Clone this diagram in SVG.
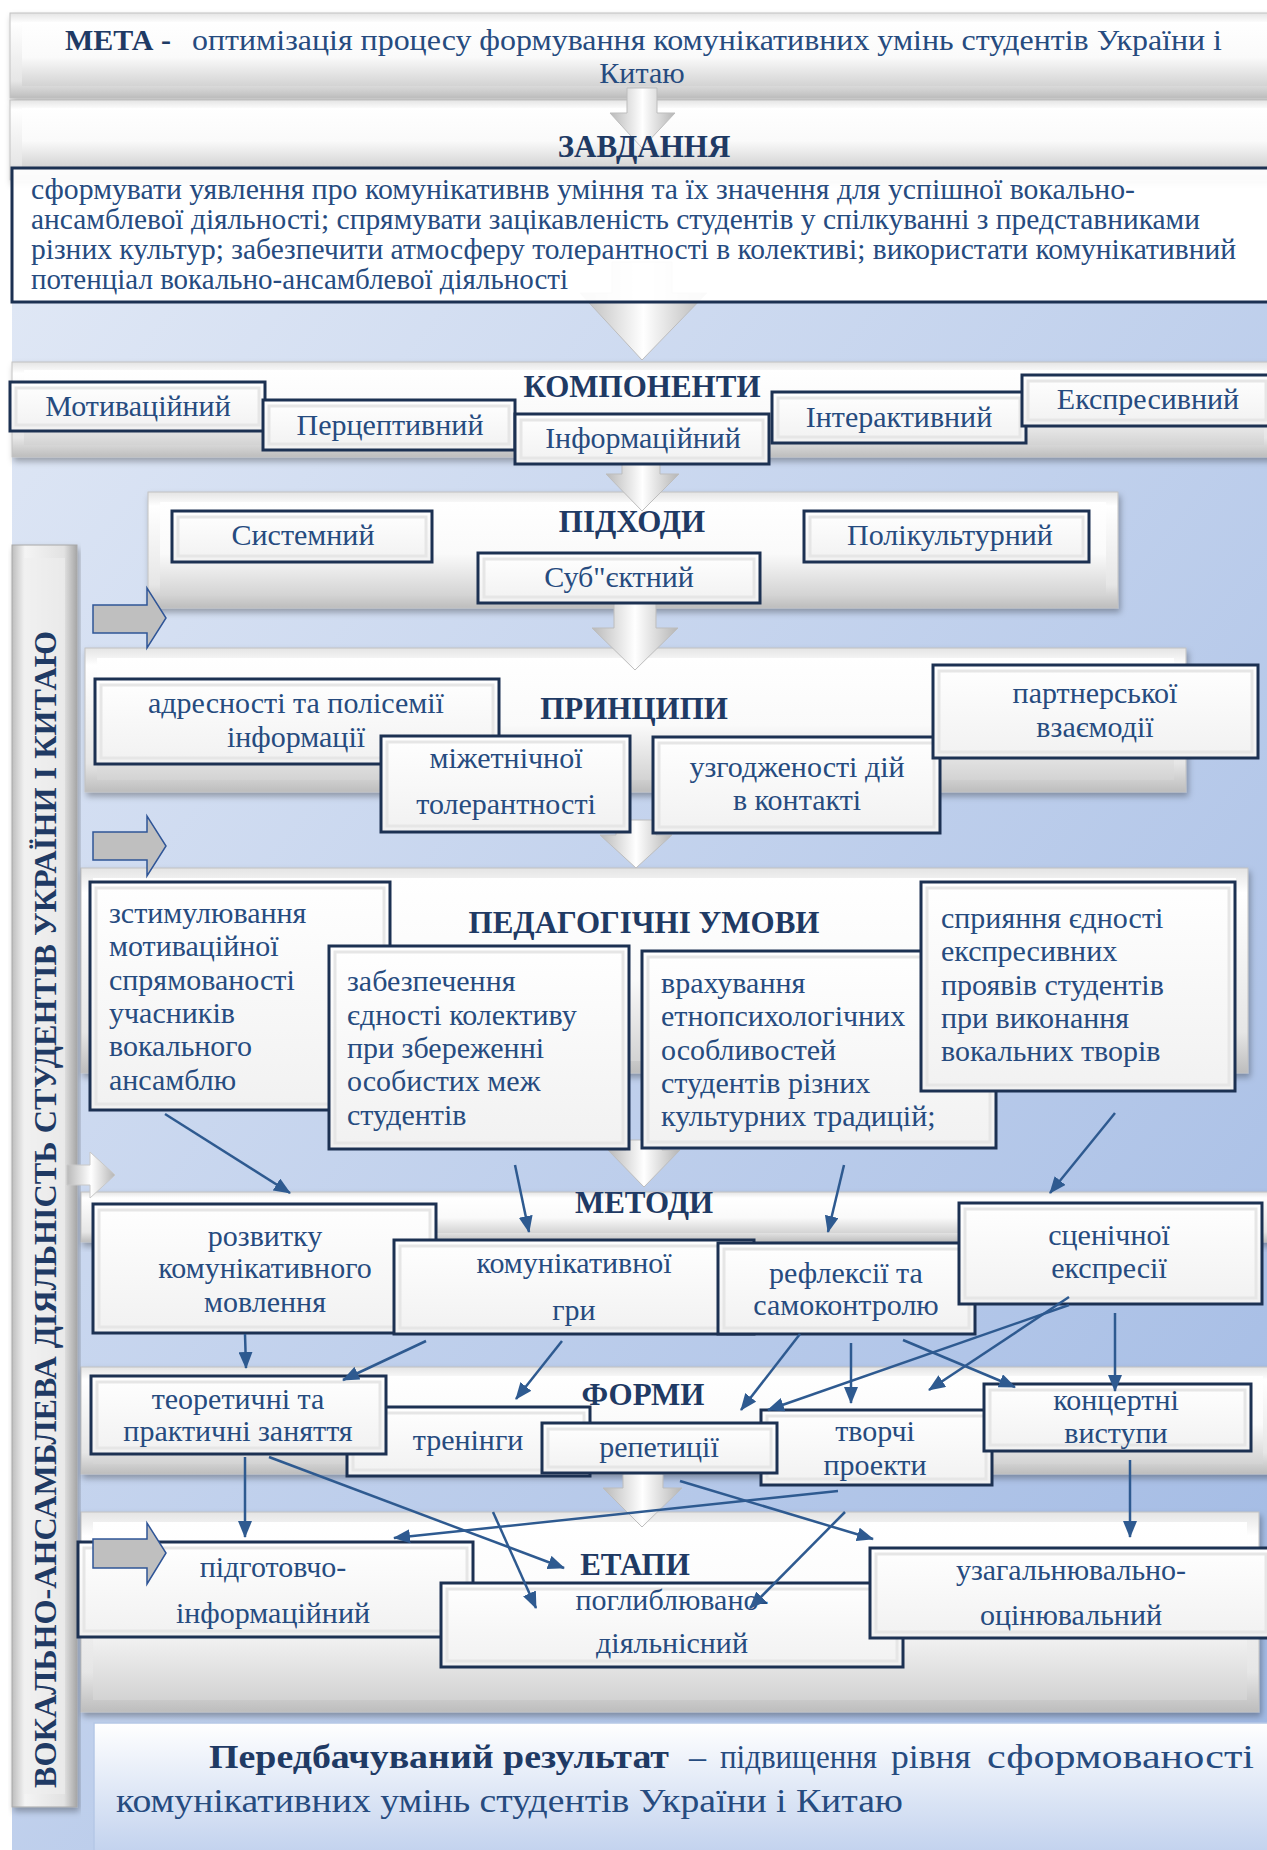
<svg xmlns="http://www.w3.org/2000/svg" width="1267" height="1850" viewBox="0 0 1267 1850">
<style>
.t{font-family:"Liberation Serif","Times New Roman",serif;fill:#264b7f;font-size:30px}
.m{text-anchor:middle}
.h{font-family:"Liberation Serif","Times New Roman",serif;font-weight:bold;fill:#1f3a64;font-size:31px;text-anchor:middle}
.box{fill:url(#boxFill);stroke:#1c3152;stroke-width:3}
.bev{fill:none;stroke:#e6e6e6;stroke-width:3}
.band{fill:url(#bandOuter);stroke:#c2c2c2;stroke-width:1;filter:url(#sh)}
.bin{fill:url(#bandInner)}
.big{fill:url(#arrowGrad);stroke:#bdbdbd;stroke-width:1}
.side{fill:#bfbfbf;stroke:#2f5597;stroke-width:1.5}
.conn{stroke:#2e5a90;stroke-width:2.5;fill:none;marker-end:url(#ah)}
.r{font-size:34px}
</style>
<defs>
<linearGradient id="bg" x1="0" y1="0" x2="1" y2="1">
<stop offset="0" stop-color="#dfe7f5"/><stop offset="1" stop-color="#9fb8e3"/>
</linearGradient>
<linearGradient id="bandOuter" x1="0" y1="0" x2="0" y2="1">
<stop offset="0" stop-color="#e4e4e4"/><stop offset="0.12" stop-color="#ffffff"/><stop offset="0.8" stop-color="#e6e6e6"/><stop offset="1" stop-color="#bdbdbd"/>
</linearGradient>
<linearGradient id="bandInner" x1="0" y1="0" x2="0" y2="1">
<stop offset="0" stop-color="#ffffff"/><stop offset="0.55" stop-color="#fafafa"/><stop offset="1" stop-color="#d3d3d3"/>
</linearGradient>
<linearGradient id="boxFill" x1="0" y1="0" x2="0" y2="1">
<stop offset="0" stop-color="#ffffff"/><stop offset="1" stop-color="#f1f1f1"/>
</linearGradient>
<linearGradient id="arrowGrad" x1="0" y1="0" x2="1" y2="0">
<stop offset="0" stop-color="#b9b9b9"/><stop offset="0.5" stop-color="#ffffff"/><stop offset="1" stop-color="#b5b5b5"/>
</linearGradient>
<linearGradient id="barGrad" x1="0" y1="0" x2="1" y2="0">
<stop offset="0" stop-color="#bdbdbd"/><stop offset="0.2" stop-color="#f4f4f4"/><stop offset="0.8" stop-color="#e2e2e2"/><stop offset="1" stop-color="#a6a6a6"/>
</linearGradient>
<linearGradient id="resGrad" x1="0" y1="0" x2="0" y2="1">
<stop offset="0" stop-color="#ffffff"/><stop offset="1" stop-color="#c2d2ee"/>
</linearGradient>
<filter id="sh" x="-5%" y="-10%" width="110%" height="130%">
<feDropShadow dx="2" dy="4" stdDeviation="3" flood-color="#000" flood-opacity="0.3"/>
</filter>
<marker id="ah" markerUnits="userSpaceOnUse" markerWidth="18" markerHeight="14" refX="16" refY="7" orient="auto">
<path d="M0,0 L17,7 L0,14 Z" fill="#2e5a90"/>
</marker>
</defs>

<rect x="0" y="0" width="1267" height="1850" fill="#ffffff"/>
<rect x="12" y="302" width="1255" height="1548" fill="url(#bg)"/>

<g id="bands">
<g id="band-meta"><rect class="band" x="10" y="13" width="1265" height="85"/><rect class="bin" x="22" y="22" width="1245" height="64"/></g>
<g id="band-zavd"><rect class="band" x="10" y="100" width="1265" height="80"/><rect class="bin" x="22" y="108" width="1245" height="60"/></g>
<g id="band-komp"><rect class="band" x="12" y="362" width="1262" height="95"/><rect class="bin" x="24" y="370" width="1240" height="75"/></g>
<g id="band-pidh"><rect class="band" x="148" y="492" width="970" height="116"/><rect class="bin" x="160" y="502" width="946" height="94"/></g>
<g id="band-prync"><rect class="band" x="85" y="648" width="1101" height="144"/><rect class="bin" x="97" y="658" width="1077" height="122"/></g>
<g id="band-umovy"><rect class="band" x="81" y="868" width="1167" height="205"/><rect class="bin" x="93" y="878" width="1143" height="183"/></g>
<g id="band-metody"><rect class="band" x="81" y="1192" width="1190" height="50"/><rect class="bin" x="93" y="1199" width="1170" height="34"/></g>
<g id="band-formy"><rect class="band" x="81" y="1367" width="1190" height="107"/><rect class="bin" x="93" y="1376" width="1170" height="88"/></g>
<g id="band-etapy"><rect class="band" x="81" y="1512" width="1178" height="200"/><rect class="bin" x="93" y="1522" width="1154" height="178"/></g>
</g>

<g id="side-bar">
<rect x="12" y="545" width="65" height="1262" fill="url(#barGrad)" stroke="#a8a8a8" stroke-width="1" filter="url(#sh)"/>
<rect x="24" y="558" width="41" height="1236" fill="#eeeeee" opacity="0.6"/>
<text class="h" style="text-anchor:start;font-size:31px" transform="translate(56,1788) rotate(-90)" textLength="1157" lengthAdjust="spacingAndGlyphs">ВОКАЛЬНО-АНСАМБЛЕВА ДІЯЛЬНІСТЬ СТУДЕНТІВ УКРАЇНИ І КИТАЮ</text>
</g>

<g id="flow-arrows">
<path class="big" d="M627,88 L657,88 L657,113 L675,113 L642,148 L610,113 L627,113 Z"/>
<path class="big" d="M612,262 L672,262 L672,293 L707,293 L642,360 L580,293 L612,293 Z"/>
<path class="big" d="M622,458 L660,458 L660,474 L679,474 L642,511 L606,474 L622,474 Z"/>
<path class="big" d="M614,603 L656,603 L656,628 L678,628 L635,670 L592,628 L614,628 Z"/>
<path class="big" d="M616,820 L656,820 L656,835 L672,835 L636,868 L600,835 L616,835 Z"/>
<path class="big" d="M626,1140 L662,1140 L662,1150 L680,1150 L644,1187 L608,1150 L626,1150 Z"/>
<path class="big" d="M623,1473 L663,1473 L663,1488 L682,1488 L642,1527 L603,1488 L623,1488 Z"/>
</g>

<g id="meta">
<text class="t" x="65" y="50" style="font-weight:bold;fill:#1f3a64">МЕТА -</text>
<text class="t" x="192" y="50" textLength="1030" lengthAdjust="spacingAndGlyphs">оптимізація процесу формування комунікативних умінь студентів України і</text>
<text class="t m" x="642" y="83">Китаю</text>
</g>

<g id="tasks">
<rect x="12" y="168" width="1262" height="134" fill="#ffffff" fill-opacity="0.93" stroke="#1c3152" stroke-width="3"/>
<text class="t" x="31" y="199" style="font-size:29px" textLength="1104" lengthAdjust="spacingAndGlyphs">сформувати уявлення про комунікативнв уміння  та їх значення для успішної вокально-</text>
<text class="t" x="31" y="229" style="font-size:29px" textLength="1169" lengthAdjust="spacingAndGlyphs">ансамблевої діяльності; спрямувати зацікавленість  студентів у спілкуванні з представниками</text>
<text class="t" x="31" y="259" style="font-size:29px" textLength="1205" lengthAdjust="spacingAndGlyphs">різних культур; забезпечити атмосферу толерантності в колективі; використати комунікативний</text>
<text class="t" x="31" y="289" style="font-size:29px">потенціал вокально-ансамблевої діяльності</text>
</g>

<g id="components">
<g id="c-motyv"><rect class="box" x="10" y="382" width="255" height="49"/><rect class="bev" x="16" y="388" width="243" height="37"/><text class="t m" x="138" y="416">Мотиваційний</text></g>
<g id="c-percept"><rect class="box" x="263" y="400" width="252" height="50"/><rect class="bev" x="269" y="406" width="240" height="38"/><text class="t m" x="390" y="435">Перцептивний</text></g>
<g id="c-inform"><rect class="box" x="515" y="414" width="254" height="50"/><rect class="bev" x="521" y="420" width="242" height="38"/><text class="t m" x="643" y="448">Інформаційний</text></g>
<g id="c-interakt"><rect class="box" x="772" y="392" width="254" height="51"/><rect class="bev" x="778" y="398" width="242" height="39"/><text class="t m" x="899" y="427">Інтерактивний</text></g>
<g id="c-ekspres"><rect class="box" x="1022" y="375" width="250" height="51"/><rect class="bev" x="1028" y="381" width="238" height="39"/><text class="t m" x="1148" y="409">Експресивний</text></g>
</g>

<g id="approaches">
<g id="a-system"><rect class="box" x="172" y="511" width="260" height="51"/><rect class="bev" x="178" y="517" width="248" height="39"/><text class="t m" x="303" y="545">Системний</text></g>
<g id="a-polikult"><rect class="box" x="804" y="511" width="285" height="51"/><rect class="bev" x="810" y="517" width="273" height="39"/><text class="t m" x="950" y="545">Полікультурний</text></g>
<g id="a-subj"><rect class="box" x="478" y="553" width="282" height="50"/><rect class="bev" x="484" y="559" width="270" height="38"/><text class="t m" x="619" y="587">Суб"єктний</text></g>
</g>

<g id="principles">
<g id="p-adres"><rect class="box" x="95" y="679" width="404" height="85"/><rect class="bev" x="101" y="685" width="392" height="73"/><text class="t m" x="296" y="713">адресності та полісемії</text><text class="t m" x="296" y="747">інформації</text></g>
<g id="p-mizhet"><rect class="box" x="381" y="736" width="249" height="96"/><rect class="bev" x="387" y="742" width="237" height="84"/><text class="t m" x="506" y="768">міжетнічної</text><text class="t m" x="506" y="814">толерантності</text></g>
<g id="p-uzgod"><rect class="box" x="653" y="737" width="287" height="96"/><rect class="bev" x="659" y="743" width="275" height="84"/><text class="t m" x="797" y="777">узгодженості дій</text><text class="t m" x="797" y="810">в контакті</text></g>
<g id="p-partn"><rect class="box" x="933" y="665" width="325" height="93"/><rect class="bev" x="939" y="671" width="313" height="81"/><text class="t m" x="1095" y="703">партнерської</text><text class="t m" x="1095" y="737">взаємодії</text></g>
</g>

<g id="conditions">
<g id="u-stym"><rect class="box" x="90" y="882" width="300" height="228"/><rect class="bev" x="96" y="888" width="288" height="216"/>
<text class="t" x="109" y="923">зстимулювання</text><text class="t" x="109" y="956">мотиваційної</text><text class="t" x="109" y="990">спрямованості</text><text class="t" x="109" y="1023">учасників</text><text class="t" x="109" y="1056">вокального</text><text class="t" x="109" y="1090">ансамблю</text></g>
<g id="u-zabezp"><rect class="box" x="329" y="946" width="300" height="203"/><rect class="bev" x="335" y="952" width="288" height="191"/>
<text class="t" x="347" y="991">забезпечення</text><text class="t" x="347" y="1025">єдності колективу</text><text class="t" x="347" y="1058">при збереженні</text><text class="t" x="347" y="1091">особистих меж</text><text class="t" x="347" y="1125">студентів</text></g>
<g id="u-vrakh"><rect class="box" x="642" y="951" width="354" height="197"/><rect class="bev" x="648" y="957" width="342" height="185"/>
<text class="t" x="661" y="993">врахування</text><text class="t" x="661" y="1026">етнопсихологічних</text><text class="t" x="661" y="1060">особливостей</text><text class="t" x="661" y="1093">студентів різних</text><text class="t" x="661" y="1126">культурних традицій;</text></g>
<g id="u-spryi"><rect class="box" x="921" y="882" width="314" height="209"/><rect class="bev" x="927" y="888" width="302" height="197"/>
<text class="t" x="941" y="928">сприяння єдності</text><text class="t" x="941" y="961">експресивних</text><text class="t" x="941" y="995">проявів студентів</text><text class="t" x="941" y="1028">при виконання</text><text class="t" x="941" y="1061">вокальних творів</text></g>
</g>

<g id="methods">
<g id="m-rozv"><rect class="box" x="93" y="1204" width="343" height="129"/><rect class="bev" x="99" y="1210" width="331" height="117"/><text class="t m" x="265" y="1246">розвитку</text><text class="t m" x="265" y="1278">комунікативного</text><text class="t m" x="265" y="1312">мовлення</text></g>
<g id="m-gry"><rect class="box" x="394" y="1240" width="360" height="94"/><rect class="bev" x="400" y="1246" width="348" height="82"/><text class="t m" x="574" y="1273">комунікативної</text><text class="t m" x="574" y="1320">гри</text></g>
<g id="m-refl"><rect class="box" x="718" y="1243" width="257" height="91"/><rect class="bev" x="724" y="1249" width="245" height="79"/><text class="t m" x="846" y="1283">рефлексії та</text><text class="t m" x="846" y="1315">самоконтролю</text></g>
<g id="m-scen"><rect class="box" x="959" y="1203" width="303" height="101"/><rect class="bev" x="965" y="1209" width="291" height="89"/><text class="t m" x="1109" y="1245">сценічної</text><text class="t m" x="1109" y="1278">експресії</text></g>
</g>

<g id="forms">
<g id="f-trening"><rect class="box" x="347" y="1407" width="243" height="69"/><rect class="bev" x="353" y="1413" width="231" height="57"/><text class="t m" x="468" y="1450">тренінги</text></g>
<g id="f-teor"><rect class="box" x="91" y="1376" width="295" height="78"/><rect class="bev" x="97" y="1382" width="283" height="66"/><text class="t m" x="238" y="1409">теоретичні та</text><text class="t m" x="238" y="1441">практичні заняття</text></g>
<g id="f-tvorchi"><rect class="box" x="761" y="1410" width="231" height="75"/><rect class="bev" x="767" y="1416" width="219" height="63"/><text class="t m" x="875" y="1441">творчі</text><text class="t m" x="875" y="1475">проекти</text></g>
<g id="f-repet"><rect class="box" x="542" y="1423" width="235" height="50"/><rect class="bev" x="548" y="1429" width="223" height="38"/><text class="t m" x="659" y="1457">репетиції</text></g>
<g id="f-koncert"><rect class="box" x="984" y="1384" width="267" height="67"/><rect class="bev" x="990" y="1390" width="255" height="55"/><text class="t m" x="1116" y="1410">концертні</text><text class="t m" x="1116" y="1443">виступи</text></g>
</g>

<g id="stages">
<g id="e-pidg"><rect class="box" x="78" y="1542" width="395" height="95"/><rect class="bev" x="84" y="1548" width="383" height="83"/><text class="t m" x="273" y="1577">підготовчо-</text><text class="t m" x="273" y="1623">інформаційний</text></g>
<g id="e-pogl"><rect class="box" x="441" y="1583" width="462" height="84"/><rect class="bev" x="447" y="1589" width="450" height="72"/><text class="t m" x="672" y="1610">поглиблювано-</text><text class="t m" x="672" y="1653">діяльнісний</text></g>
<g id="e-uzag"><rect class="box" x="870" y="1548" width="402" height="90"/><rect class="bev" x="876" y="1554" width="390" height="78"/><text class="t m" x="1071" y="1580">узагальнювально-</text><text class="t m" x="1071" y="1625">оцінювальний</text></g>
</g>

<g id="side-arrows">
<path class="side" d="M93,605 L147,605 L147,588 L166,618 L147,648 L147,633 L93,633 Z"/>
<path class="side" d="M93,832 L147,832 L147,816 L166,846 L147,876 L147,860 L93,860 Z"/>
<path class="side" d="M93,1539 L147,1539 L147,1523 L166,1553 L147,1584 L147,1568 L93,1568 Z"/>
<path d="M67,1165 L90,1165 L90,1152 L115,1175 L90,1198 L90,1185 L67,1185 Z" fill="url(#arrowGrad)" stroke="#c8c8c8" stroke-width="1"/>
</g>

<g id="headings">
<text class="h" x="644" y="157">ЗАВДАННЯ</text>
<text class="h" x="642" y="397">КОМПОНЕНТИ</text>
<text class="h" x="632" y="532">ПІДХОДИ</text>
<text class="h" x="634" y="719">ПРИНЦИПИ</text>
<text class="h" x="644" y="933">ПЕДАГОГІЧНІ УМОВИ</text>
<text class="h" x="644" y="1213">МЕТОДИ</text>
<text class="h" x="643" y="1405">ФОРМИ</text>
<text class="h" x="635" y="1575">ЕТАПИ</text>
</g>

<g id="connectors">
<line class="conn" x1="165" y1="1114" x2="290" y2="1193"/>
<line class="conn" x1="515" y1="1165" x2="529" y2="1232"/>
<line class="conn" x1="844" y1="1165" x2="828" y2="1232"/>
<line class="conn" x1="1115" y1="1113" x2="1050" y2="1193"/>
<line class="conn" x1="245" y1="1334" x2="246" y2="1368"/>
<line class="conn" x1="426" y1="1341" x2="343" y2="1380"/>
<line class="conn" x1="562" y1="1341" x2="516" y2="1399"/>
<line class="conn" x1="800" y1="1334" x2="741" y2="1410"/>
<line class="conn" x1="851" y1="1343" x2="851" y2="1403"/>
<line class="conn" x1="903" y1="1340" x2="1015" y2="1387"/>
<line class="conn" x1="1069" y1="1297" x2="929" y2="1390"/>
<line class="conn" x1="1069" y1="1305" x2="768" y2="1410"/>
<line class="conn" x1="1115" y1="1313" x2="1115" y2="1391"/>
<line class="conn" x1="245" y1="1457" x2="245" y2="1537"/>
<line class="conn" x1="269" y1="1457" x2="564" y2="1568"/>
<line class="conn" x1="493" y1="1512" x2="536" y2="1608"/>
<line class="conn" x1="838" y1="1491" x2="394" y2="1538"/>
<line class="conn" x1="680" y1="1481" x2="873" y2="1539"/>
<line class="conn" x1="845" y1="1512" x2="750" y2="1608"/>
<line class="conn" x1="1130" y1="1460" x2="1130" y2="1537"/>
</g>

<g id="result">
<rect x="94" y="1723" width="1180" height="130" fill="url(#resGrad)" stroke="#b5c7e6" stroke-width="1.5"/>
<text class="t r" x="209" y="1768" style="font-weight:bold;fill:#1f3a64" textLength="460" lengthAdjust="spacingAndGlyphs">Передбачуваний результат</text>
<text class="t r" x="689" y="1768">–</text>
<text class="t r" x="720" y="1768" textLength="157" lengthAdjust="spacingAndGlyphs">підвищення</text>
<text class="t r" x="891" y="1768" textLength="80" lengthAdjust="spacingAndGlyphs">рівня</text>
<text class="t r" x="987" y="1768" textLength="267" lengthAdjust="spacingAndGlyphs">сформованості</text>
<text class="t r" x="116" y="1812" textLength="787" lengthAdjust="spacingAndGlyphs">комунікативних умінь студентів України і Китаю</text>
</g>
</svg>
